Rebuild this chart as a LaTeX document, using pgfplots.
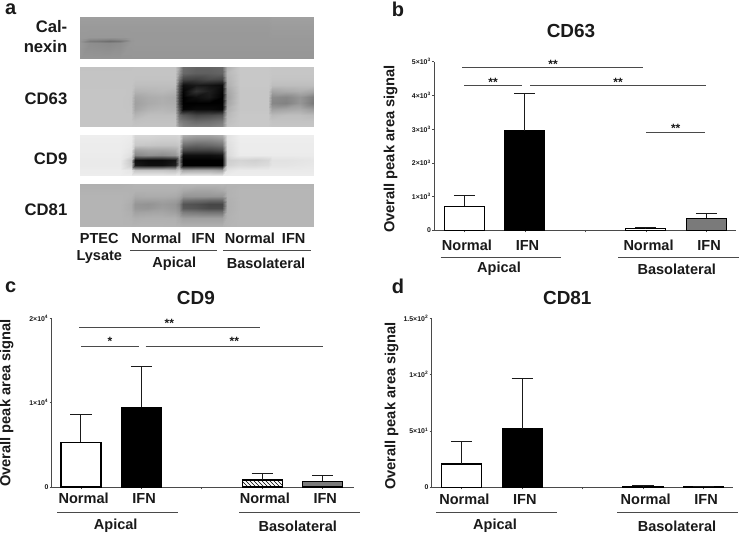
\documentclass[border=0pt]{standalone}
\usepackage{pgfplots}
\pgfplotsset{compat=1.18}
\usepackage{fontspec}
\setmainfont{Liberation Sans}
\usetikzlibrary{patterns}
\definecolor{ink}{HTML}{1A1A1A}
\definecolor{axisc}{HTML}{4A4A4A}
\definecolor{gbar}{HTML}{7A7A7A}
\newcommand{\ntx}{\fontsize{10.9}{12}\selectfont\bfseries}
\newcommand{\rowf}{\fontsize{12.5}{14}\selectfont\bfseries}
\newcommand{\pan}{\fontsize{15}{17}\selectfont\bfseries}
\pgfplotsset{
  blot/.style={hide axis, scale only axis, xmin=0, xmax=234, y dir=reverse, width=175.5pt,
    colormap={gr}{gray(0cm)=(0); gray(1cm)=(1)}, point meta min=0, point meta max=255, anchor=north west},
  blotmap/.style={surf, shader=interp, mesh/cols=23, point meta=explicit},
  panel/.style={scale only axis, anchor=south west, axis x line=bottom, axis y line=left,
    axis line style={-, color=axisc, line width=0.75pt},
    xtick={0,1,2,3,4}, xticklabels={Normal,IFN,,Normal,IFN},
    ymin=0, scaled y ticks=false, tick style={color=axisc, line width=0.5pt}, major tick length=1.5pt,
    tick align=outside,
    xticklabel style={font=\ntx, text=ink, xshift=2pt, anchor=north, text height=8pt, text depth=0pt},
    yticklabel style={font=\fontsize{5.2}{6}\selectfont\bfseries, text=ink, inner sep=0.8pt},
    title style={font=\fontsize{14.2}{16}\selectfont\bfseries, text=ink, anchor=center, yshift=-6pt},
    y label style={font=\fontsize{11}{13}\selectfont\bfseries, text=ink, anchor=center},
    clip=false, ybar, bar shift=0pt, bar width=30pt},
  vbar/.style={draw=black, line width=0.9pt,
    error bars/y dir=plus, error bars/y explicit, error bars/error bar style={color=ink, line width=0.75pt}, error bars/error mark options={color=ink, line width=0.75pt, mark size=7.9pt, rotate=90}},
}
\begin{document}
\begin{tikzpicture}[x=0.75pt, y=-0.75pt]
\path[use as bounding box, fill=white] (0,0) rectangle (740,535);

% ---- panel a : blots (x y grey)
\begin{axis}[blot, at={(80*0.75pt,-17*0.75pt)}, height=31.5pt, ymin=0, ymax=42]
\addplot[blotmap] table[row sep=\\, header=false, x index=0, y index=1, meta index=2] {
0 0 158\\10 0 158\\20 0 158\\30 0 158\\40 0 158\\51 0 158\\55 0 158\\68 0 158\\82 0 158\\95 0 158\\99 0 158\\103 0 158\\116 0 158\\129 0 158\\142 0 158\\147 0 158\\160 0 158\\175 0 158\\188 0 158\\192 0 160\\206 0 160\\220 0 160\\234 0 160\\
0 10 154\\10 10 154\\20 10 154\\30 10 154\\40 10 154\\51 10 154\\55 10 154\\68 10 154\\82 10 154\\95 10 154\\99 10 154\\103 10 154\\116 10 154\\129 10 154\\142 10 154\\147 10 154\\160 10 154\\175 10 154\\188 10 154\\192 10 156\\206 10 156\\220 10 156\\234 10 156\\
0 20 153\\10 20 152\\20 20 152\\30 20 152\\40 20 152\\51 20 153\\55 20 153\\68 20 153\\82 20 153\\95 20 153\\99 20 153\\103 20 153\\116 20 153\\129 20 153\\142 20 153\\147 20 153\\160 20 153\\175 20 153\\188 20 153\\192 20 154\\206 20 154\\220 20 154\\234 20 154\\
0 22 152\\10 22 140\\20 22 138\\30 22 135\\40 22 140\\51 22 152\\55 22 153\\68 22 153\\82 22 153\\95 22 153\\99 22 153\\103 22 153\\116 22 153\\129 22 153\\142 22 153\\147 22 153\\160 22 153\\175 22 153\\188 22 153\\192 22 153\\206 22 153\\220 22 153\\234 22 153\\
0 24 150\\10 24 122\\20 24 118\\30 24 110\\40 24 118\\51 24 150\\55 24 153\\68 24 153\\82 24 153\\95 24 153\\99 24 153\\103 24 153\\116 24 153\\129 24 153\\142 24 153\\147 24 153\\160 24 153\\175 24 153\\188 24 153\\192 24 153\\206 24 153\\220 24 153\\234 24 153\\
0 26 152\\10 26 142\\20 26 140\\30 26 138\\40 26 142\\51 26 152\\55 26 153\\68 26 153\\82 26 153\\95 26 153\\99 26 153\\103 26 153\\116 26 153\\129 26 153\\142 26 153\\147 26 153\\160 26 153\\175 26 153\\188 26 153\\192 26 153\\206 26 153\\220 26 153\\234 26 153\\
0 42 150\\10 42 150\\20 42 150\\30 42 150\\40 42 150\\51 42 150\\55 42 150\\68 42 150\\82 42 150\\95 42 150\\99 42 150\\103 42 150\\116 42 150\\129 42 150\\142 42 150\\147 42 150\\160 42 150\\175 42 150\\188 42 150\\192 42 150\\206 42 150\\220 42 150\\234 42 150\\
};
\end{axis}
\begin{axis}[blot, at={(80*0.75pt,-67*0.75pt)}, height=45pt, ymin=0, ymax=60]
\addplot[blotmap] table[row sep=\\, header=false, x index=0, y index=1, meta index=2] {
0 0 195\\10 0 195\\20 0 195\\30 0 195\\40 0 195\\51 0 195\\55 0 196\\68 0 196\\82 0 196\\95 0 196\\99 0 165\\103 0 110\\116 0 100\\129 0 100\\142 0 105\\147 0 175\\160 0 200\\175 0 200\\188 0 200\\192 0 198\\206 0 198\\220 0 198\\234 0 198\\
0 6 196\\10 6 196\\20 6 196\\30 6 196\\40 6 196\\51 6 196\\55 6 196\\68 6 196\\82 6 196\\95 6 196\\99 6 150\\103 6 105\\116 6 95\\129 6 95\\142 6 100\\147 6 185\\160 6 200\\175 6 200\\188 6 200\\192 6 198\\206 6 198\\220 6 198\\234 6 198\\
0 12 196\\10 12 196\\20 12 196\\30 12 196\\40 12 196\\51 12 196\\55 12 195\\68 12 195\\82 12 195\\95 12 195\\99 12 120\\103 12 70\\116 12 65\\129 12 75\\142 12 70\\147 12 180\\160 12 200\\175 12 200\\188 12 200\\192 12 196\\206 12 196\\220 12 196\\234 12 196\\
0 18 196\\10 18 196\\20 18 196\\30 18 196\\40 18 196\\51 18 196\\55 18 190\\68 18 190\\82 18 190\\95 18 190\\99 18 80\\103 18 15\\116 18 25\\129 18 20\\142 18 10\\147 18 175\\160 18 200\\175 18 200\\188 18 200\\192 18 190\\206 18 190\\220 18 190\\234 18 190\\
0 24 197\\10 24 197\\20 24 197\\30 24 197\\40 24 197\\51 24 196\\55 24 180\\68 24 182\\82 24 185\\95 24 180\\99 24 70\\103 24 5\\116 24 50\\129 24 30\\142 24 5\\147 24 165\\160 24 198\\175 24 198\\188 24 198\\192 24 165\\206 24 170\\220 24 175\\234 24 165\\
0 30 197\\10 30 197\\20 30 197\\30 30 197\\40 30 197\\51 30 195\\55 30 165\\68 30 172\\82 30 175\\95 30 170\\99 30 60\\103 30 0\\116 30 15\\129 30 25\\142 30 0\\147 30 160\\160 30 198\\175 30 198\\188 30 198\\192 30 140\\206 30 135\\220 30 150\\234 30 125\\
0 36 197\\10 36 197\\20 36 197\\30 36 197\\40 36 197\\51 36 195\\55 36 160\\68 36 170\\82 36 175\\95 36 172\\99 36 60\\103 36 0\\116 36 0\\129 36 0\\142 36 0\\147 36 165\\160 36 198\\175 36 198\\188 36 198\\192 36 135\\206 36 130\\220 36 150\\234 36 120\\
0 42 197\\10 42 197\\20 42 197\\30 42 197\\40 42 197\\51 42 196\\55 42 165\\68 42 178\\82 42 182\\95 42 178\\99 42 80\\103 42 5\\116 42 10\\129 42 10\\142 42 5\\147 42 175\\160 42 198\\175 42 198\\188 42 198\\192 42 160\\206 42 165\\220 42 170\\234 42 155\\
0 48 197\\10 48 197\\20 48 197\\30 48 197\\40 48 197\\51 48 197\\55 48 180\\68 48 190\\82 48 190\\95 48 190\\99 48 110\\103 48 90\\116 48 70\\129 48 75\\142 48 85\\147 48 185\\160 48 200\\175 48 200\\188 48 200\\192 48 185\\206 48 190\\220 48 190\\234 48 185\\
0 54 197\\10 54 197\\20 54 197\\30 54 197\\40 54 197\\51 54 197\\55 54 192\\68 54 194\\82 54 194\\95 54 194\\99 54 130\\103 54 120\\116 54 105\\129 54 110\\142 54 120\\147 54 190\\160 54 200\\175 54 200\\188 54 200\\192 54 195\\206 54 195\\220 54 195\\234 54 195\\
0 60 197\\10 60 197\\20 60 197\\30 60 197\\40 60 197\\51 60 197\\55 60 196\\68 60 196\\82 60 196\\95 60 196\\99 60 150\\103 60 135\\116 60 130\\129 60 130\\142 60 140\\147 60 195\\160 60 200\\175 60 200\\188 60 200\\192 60 198\\206 60 198\\220 60 198\\234 60 198\\
};
\end{axis}
\begin{axis}[blot, at={(80*0.75pt,-135*0.75pt)}, height=30.75pt, ymin=0, ymax=41]
\addplot[blotmap] table[row sep=\\, header=false, x index=0, y index=1, meta index=2] {
0 0 238\\10 0 238\\20 0 238\\30 0 238\\40 0 238\\51 0 236\\55 0 215\\68 0 215\\82 0 212\\95 0 212\\99 0 215\\103 0 175\\116 0 165\\129 0 165\\142 0 175\\147 0 225\\160 0 238\\175 0 238\\188 0 238\\192 0 238\\206 0 238\\220 0 238\\234 0 238\\
0 5 237\\10 5 237\\20 5 237\\30 5 237\\40 5 237\\51 5 234\\55 5 208\\68 5 208\\82 5 205\\95 5 205\\99 5 208\\103 5 145\\116 5 135\\129 5 135\\142 5 145\\147 5 225\\160 5 237\\175 5 237\\188 5 237\\192 5 237\\206 5 237\\220 5 237\\234 5 237\\
0 10 236\\10 10 236\\20 10 236\\30 10 236\\40 10 236\\51 10 232\\55 10 200\\68 10 198\\82 10 195\\95 10 195\\99 10 200\\103 10 110\\116 10 100\\129 10 105\\142 10 115\\147 10 222\\160 10 236\\175 10 236\\188 10 236\\192 10 236\\206 10 236\\220 10 236\\234 10 236\\
0 15 236\\10 15 236\\20 15 236\\30 15 236\\40 15 236\\51 15 228\\55 15 160\\68 15 165\\82 15 165\\95 15 170\\99 15 190\\103 15 70\\116 15 65\\129 15 65\\142 15 75\\147 15 220\\160 15 236\\175 15 236\\188 15 236\\192 15 236\\206 15 236\\220 15 236\\234 15 236\\
0 20 235\\10 20 235\\20 20 235\\30 20 235\\40 20 235\\51 20 222\\55 20 135\\68 20 145\\82 20 140\\95 20 150\\99 20 175\\103 20 15\\116 20 15\\129 20 15\\142 20 20\\147 20 218\\160 20 235\\175 20 235\\188 20 235\\192 20 235\\206 20 235\\220 20 235\\234 20 235\\
0 25 234\\10 25 234\\20 25 234\\30 25 234\\40 25 234\\51 25 200\\55 25 15\\68 25 10\\82 25 10\\95 25 20\\99 25 130\\103 25 0\\116 25 0\\129 25 0\\142 25 0\\147 25 205\\160 25 212\\175 25 208\\188 25 214\\192 25 226\\206 25 226\\220 25 228\\234 25 230\\
0 30 234\\10 30 234\\20 30 234\\30 30 234\\40 30 234\\51 30 205\\55 30 25\\68 30 15\\82 30 15\\95 30 30\\99 30 140\\103 30 0\\116 30 0\\129 30 0\\142 30 0\\147 30 210\\160 30 218\\175 30 216\\188 30 220\\192 30 228\\206 30 228\\220 30 230\\234 30 232\\
0 35 236\\10 35 236\\20 35 236\\30 35 236\\40 35 236\\51 35 230\\55 35 195\\68 35 195\\82 35 195\\95 35 190\\99 35 205\\103 35 165\\116 35 170\\129 35 170\\142 35 160\\147 35 228\\160 35 234\\175 35 234\\188 35 234\\192 35 234\\206 35 234\\220 35 234\\234 35 234\\
0 41 237\\10 41 237\\20 41 237\\30 41 237\\40 41 237\\51 41 237\\55 41 237\\68 41 237\\82 41 237\\95 41 237\\99 41 237\\103 41 237\\116 41 237\\129 41 237\\142 41 237\\147 41 237\\160 41 237\\175 41 237\\188 41 237\\192 41 237\\206 41 237\\220 41 237\\234 41 237\\
};
\end{axis}
\begin{axis}[blot, at={(80*0.75pt,-184*0.75pt)}, height=32.25pt, ymin=0, ymax=43]
\addplot[blotmap] table[row sep=\\, header=false, x index=0, y index=1, meta index=2] {
0 0 176\\10 0 176\\20 0 176\\30 0 176\\40 0 176\\51 0 178\\55 0 180\\68 0 180\\82 0 180\\95 0 180\\99 0 180\\103 0 182\\116 0 182\\129 0 182\\142 0 182\\147 0 180\\160 0 180\\175 0 180\\188 0 180\\192 0 180\\206 0 180\\220 0 180\\234 0 180\\
0 6 178\\10 6 178\\20 6 178\\30 6 178\\40 6 178\\51 6 178\\55 6 178\\68 6 178\\82 6 178\\95 6 178\\99 6 175\\103 6 170\\116 6 165\\129 6 165\\142 6 170\\147 6 178\\160 6 182\\175 6 182\\188 6 182\\192 6 182\\206 6 182\\220 6 182\\234 6 182\\
0 12 180\\10 12 180\\20 12 180\\30 12 180\\40 12 180\\51 12 178\\55 12 170\\68 12 172\\82 12 172\\95 12 170\\99 12 165\\103 12 150\\116 12 150\\129 12 150\\142 12 150\\147 12 178\\160 12 182\\175 12 182\\188 12 182\\192 12 182\\206 12 182\\220 12 182\\234 12 182\\
0 16 180\\10 16 180\\20 16 180\\30 16 180\\40 16 180\\51 16 175\\55 16 160\\68 16 160\\82 16 162\\95 16 158\\99 16 150\\103 16 115\\116 16 110\\129 16 105\\142 16 105\\147 16 176\\160 16 182\\175 16 182\\188 16 182\\192 16 182\\206 16 182\\220 16 182\\234 16 182\\
0 20 180\\10 20 180\\20 20 180\\30 20 180\\40 20 180\\51 20 172\\55 20 150\\68 20 147\\82 20 155\\95 20 150\\99 20 135\\103 20 85\\116 20 80\\129 20 70\\142 20 70\\147 20 175\\160 20 182\\175 20 182\\188 20 182\\192 20 182\\206 20 182\\220 20 182\\234 20 182\\
0 24 180\\10 24 180\\20 24 180\\30 24 180\\40 24 180\\51 24 172\\55 24 152\\68 24 150\\82 24 158\\95 24 152\\99 24 140\\103 24 90\\116 24 85\\129 24 75\\142 24 75\\147 24 175\\160 24 182\\175 24 182\\188 24 182\\192 24 182\\206 24 182\\220 24 182\\234 24 182\\
0 28 180\\10 28 180\\20 28 180\\30 28 180\\40 28 180\\51 28 175\\55 28 162\\68 28 164\\82 28 166\\95 28 160\\99 28 150\\103 28 125\\116 28 120\\129 28 115\\142 28 115\\147 28 176\\160 28 182\\175 28 182\\188 28 182\\192 28 182\\206 28 182\\220 28 182\\234 28 182\\
0 34 180\\10 34 180\\20 34 180\\30 34 180\\40 34 180\\51 34 178\\55 34 174\\68 34 176\\82 34 176\\95 34 175\\99 34 168\\103 34 160\\116 34 160\\129 34 160\\142 34 160\\147 34 178\\160 34 182\\175 34 182\\188 34 182\\192 34 182\\206 34 182\\220 34 182\\234 34 182\\
0 43 180\\10 43 180\\20 43 180\\30 43 180\\40 43 180\\51 43 180\\55 43 180\\68 43 180\\82 43 180\\95 43 180\\99 43 180\\103 43 178\\116 43 178\\129 43 178\\142 43 178\\147 43 180\\160 43 182\\175 43 182\\188 43 182\\192 43 182\\206 43 182\\220 43 182\\234 43 182\\
};
\end{axis}

\node[font=\pan, text=ink] at (10.7,9.5) {a};
\node[font=\rowf, text=ink, anchor=east] at (72,27) {Cal-};
\node[font=\rowf, text=ink, anchor=east] at (72,47) {nexin};
\node[font=\rowf, text=ink, anchor=east] at (72,98.7) {CD63};
\node[font=\rowf, text=ink, anchor=east] at (72,158.7) {CD9};
\node[font=\rowf, text=ink, anchor=east] at (72,210) {CD81};
\foreach \t/\xx/\yy in {PTEC/99.3/238.7, Lysate/99.3/256.7, Normal/156.3/238.7, IFN/203.3/238.7, Normal/250/238.7, IFN/293.7/238.7, Apical/174.3/263.3, Basolateral/266/263.3}
  \node[font=\ntx, text=ink] at (\xx,\yy) {\t};
\draw[color=axisc, line width=0.75pt] (130,250.7) -- (217.3,250.7) (223.3,250.7) -- (310.7,250.7);

% ---- panel b : CD63
\begin{axis}[panel, at={(434.3*0.75pt,-230.3*0.75pt)}, width=226.3pt, height=126.5pt,
  xmin=-0.496, xmax=4.49, ymax=5000, ytick={0,1000,2000,3000,4000,5000},
  xticklabel style={yshift=-1.75pt},
  yticklabels={0,1×10\textsuperscript{3},2×10\textsuperscript{3},3×10\textsuperscript{3},4×10\textsuperscript{3},5×10\textsuperscript{3}},
  title=CD63, title style={at={(axis description cs:0.453,1.184)}},
  ylabel={Overall peak area signal}, y label style={at={(axis description cs:-0.1445,0.482)}}]
\addplot[vbar, fill=white] coordinates {(0,711) +- (0,326)};
\addplot[vbar, fill=black] coordinates {(1,2945) +- (0,1097)};
\addplot[vbar, pattern=dots, pattern color=black] coordinates {(3,50) +- (0,40)};
\addplot[vbar, fill=gbar] coordinates {(4,356) +- (0,148)};
\end{axis}
\node[font=\pan, text=ink] at (398,9.5) {b};
\draw[color=axisc, line width=0.75pt] (462.3,68) -- (642.7,68) (464.3,86) -- (521.7,86) (530,86) -- (706,86) (646.3,132.3) -- (704.7,132.3);
\foreach \t/\xx/\yy in {**/553/64, **/493/82, **/618/82, **/675.7/128}
  \node[font=\fontsize{9}{10}\selectfont\bfseries, text=ink] at (\xx,\yy) {\t};
\draw[color=axisc, line width=0.75pt] (440.7,257) -- (560.7,257) (618,257) -- (739,257);
\node[font=\ntx, text=ink] at (499,269) {Apical};
\node[font=\ntx, text=ink] at (676.7,269) {Basolateral};

% ---- panel c : CD9
\begin{axis}[panel, at={(51.7*0.75pt,-487*0.75pt)}, width=226.7pt, height=126.5pt,
  xmin=-0.485, xmax=4.52, ymax=20000, ytick={0,10000,20000},
  xticklabel style={yshift=0.3pt},
  yticklabels={0,1×10\textsuperscript{4},2×10\textsuperscript{4}},
  title=CD9, title style={at={(axis description cs:0.477,1.12)}},
  ylabel={Overall peak area signal}, y label style={at={(axis description cs:-0.149,0.498)}}]
\addplot[vbar, fill=white] coordinates {(0,5296) +- (0,3242)};
\addplot[vbar, fill=black] coordinates {(1,9447) +- (0,4901)};
\addplot[vbar, pattern=north west lines, pattern color=black] coordinates {(3,830) +- (0,790)};
\addplot[vbar, fill=gbar] coordinates {(4,672) +- (0,751)};
\end{axis}
\node[font=\pan, text=ink] at (10.7,287) {c};
\draw[color=axisc, line width=0.75pt] (79.3,327.3) -- (259.7,327.3) (81.3,346) -- (138.7,346) (145.7,346) -- (322.7,346);
\foreach \t/\xx/\yy in {**/169.3/323, */110/341.5, **/234.3/341.5}
  \node[font=\fontsize{9}{10}\selectfont\bfseries, text=ink] at (\xx,\yy) {\t};
\draw[color=axisc, line width=0.75pt] (57,512.3) -- (177.7,512.3) (239,512.3) -- (360,512.3);
\node[font=\ntx, text=ink] at (115.7,526) {Apical};
\node[font=\ntx, text=ink] at (297.7,526) {Basolateral};

% ---- panel d : CD81
\begin{axis}[panel, at={(431.7*0.75pt,-487.3*0.75pt)}, width=226pt, height=126.75pt,
  xmin=-0.497, xmax=4.49, ymax=150, ytick={0,50,100,150},
  xticklabel style={yshift=0.3pt},
  yticklabels={0,5×10\textsuperscript{1},1×10\textsuperscript{2},1.5×10\textsuperscript{2}},
  title=CD81, title style={at={(axis description cs:0.45,1.118)}},
  ylabel={Overall peak area signal}, y label style={at={(axis description cs:-0.133,0.481)}}]
\addplot[vbar, fill=white] coordinates {(0,20.7) +- (0,19.8)};
\addplot[vbar, fill=black] coordinates {(1,51.8) +- (0,44.9)};
\addplot[vbar, fill=gbar] coordinates {(3,0.8) +- (0,0.4)};
\addplot[vbar, fill=gbar] coordinates {(4,0.5) +- (0,0.4)};
\end{axis}
\node[font=\pan, text=ink] at (398,286) {d};
\draw[color=axisc, line width=0.75pt] (436.3,512.3) -- (557,512.3) (617.3,512.3) -- (738.3,512.3);
\node[font=\ntx, text=ink] at (495,526) {Apical};
\node[font=\ntx, text=ink] at (677,526) {Basolateral};
\end{tikzpicture}
\end{document}
